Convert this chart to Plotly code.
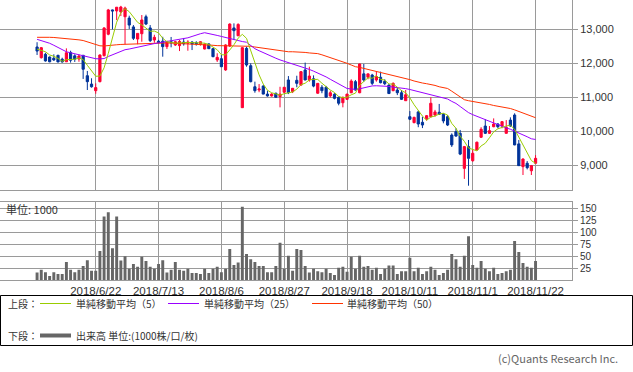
import pandas as pd
import plotly.graph_objects as go

# ---------------- data ----------------
HOLIDAYS = ["2018-07-16", "2018-09-17", "2018-09-24", "2018-10-08"]
_days = [d for d in pd.bdate_range("2018-06-04", "2018-11-22") if d.strftime("%Y-%m-%d") not in HOLIDAYS]
DATES = [f"{d.year}/{d.month}/{d.day}" for d in _days]

TICK_LABELS = ["2018/6/22", "2018/7/13", "2018/8/6", "2018/8/27",
               "2018/9/18", "2018/10/11", "2018/11/1", "2018/11/22"]

OPEN = [12480, 12165, 12265, 12185, 12150, 12235, 12120, 12045, 12320, 12220,
        12125, 12235, 11635, 11390, 11195, 11460, 12225, 12855, 13570, 13540,
        13510, 13370, 13330, 13070, 12715, 12870, 13370, 13040, 12685, 12650,
        12650, 12490, 12635, 12540, 12520, 12625, 12590, 12625, 12605, 12560,
        12420, 12570, 12430, 12100, 12135, 11805, 12510, 13040, 12810, 10695,
        12440, 11930, 11310, 11215, 11330, 11095, 11040, 11120, 11020, 11150,
        11510, 11165, 11500, 11360, 11805, 11510, 11545, 11120, 11295, 11295,
        11040, 11090, 11000, 10840, 10940, 11135, 11460, 11135, 11690, 11590,
        11655, 11510, 11590, 11470, 11360, 11195, 11215, 11135, 10900, 10430,
        10255, 10570, 10265, 10370, 10430, 10480, 10560, 10500, 10430, 9890,
        9990, 9940, 8910, 9550, 9135, 9450, 9825, 10155, 9940, 10135,
        10215, 10155, 9940, 10330, 10480, 9630, 8960, 9060, 8840, 9060]

HIGH = [12620, 12480, 12310, 12200, 12265, 12250, 12165, 12440, 12370, 12265,
        12260, 12245, 11775, 11560, 11410, 12260, 13060, 13600, 13580, 13655,
        13690, 13665, 13400, 13125, 12880, 13420, 13430, 13125, 12840, 12690,
        12780, 12665, 12775, 12660, 12685, 12745, 12680, 12650, 12650, 12650,
        12590, 12590, 12450, 12295, 12245, 12560, 13175, 13175, 13175, 12470,
        12490, 12000, 11460, 11390, 11360, 11195, 11125, 11135, 11310, 11300,
        11625, 11275, 11635, 11770, 12020, 11900, 11645, 11420, 11360, 11335,
        11195, 11120, 11020, 11020, 11100, 11530, 11510, 11990, 11980, 11690,
        11690, 11755, 11755, 11530, 11380, 11440, 11295, 11215, 11215, 10595,
        10430, 10605, 10430, 10480, 11000, 10630, 10805, 10530, 10480, 9940,
        10090, 10040, 9570, 9745, 9470, 9695, 10120, 10355, 10155, 10380,
        10240, 10285, 10330, 10410, 10530, 9745, 9205, 9125, 9010, 9300]

LOW = [12245, 12140, 12050, 12030, 12070, 12030, 12020, 12040, 12020, 12040,
       12045, 11540, 11215, 11285, 11105, 11440, 12200, 12825, 13000, 13270,
       13390, 12560, 13010, 12685, 12560, 12635, 13125, 12625, 12605, 12580,
       12195, 12420, 12470, 12510, 12360, 12520, 12370, 12390, 12520, 12520,
       12410, 12420, 12180, 12040, 11890, 11780, 12480, 12685, 12800, 10690,
       11900, 11440, 11135, 11150, 11090, 11020, 11020, 10995, 10705, 11120,
       11095, 11125, 11295, 11340, 11500, 11460, 11295, 11105, 11120, 10995,
       10990, 10940, 10765, 10705, 10920, 11120, 11195, 11120, 11460, 11530,
       11360, 11460, 11410, 11360, 11100, 11180, 11065, 10920, 10900, 10330,
       10235, 10120, 10095, 10315, 10410, 10430, 10480, 10235, 10155, 9540,
       9840, 9300, 8600, 8400, 9105, 9440, 9805, 9920, 9920, 10120,
       10090, 10090, 9940, 10135, 9590, 8985, 8715, 8880, 8715, 9040]

CLOSE = [12360, 12460, 12070, 12045, 12100, 12040, 12040, 12310, 12090, 12120,
         12215, 11825, 11460, 11310, 11285, 12245, 13040, 13570, 13540, 13650,
         13655, 13625, 13125, 12735, 12880, 13275, 13155, 12665, 12765, 12610,
         12490, 12625, 12605, 12635, 12645, 12575, 12620, 12570, 12575, 12635,
         12560, 12430, 12195, 12175, 11900, 12540, 13155, 12960, 13145, 12460,
         11950, 11460, 11195, 11245, 11095, 11040, 11095, 11000, 11095, 11295,
         11135, 11265, 11410, 11755, 11510, 11625, 11330, 11410, 11195, 11000,
         11135, 10970, 10825, 11000, 11095, 11480, 11215, 11980, 11510, 11690,
         11410, 11605, 11430, 11400, 11110, 11410, 11135, 10940, 11075, 10355,
         10410, 10215, 10185, 10460, 10825, 10570, 10500, 10305, 10185, 9600,
         9860, 9330, 9550, 9205, 9355, 9680, 10060, 9940, 10020, 10215,
         10135, 10285, 10120, 10155, 9600, 8990, 9185, 8930, 8990, 9205]

# closes of the four sessions before the window (for the 5-day average)
PRE_CLOSES = [12610, 12320, 12520, 12290]

MA25 = [12705, 12670, 12630, 12590, 12530, 12470, 12400, 12340, 12310, 12280,
        12245, 12215, 12190, 12160, 12135, 12130, 12140, 12200, 12250, 12300,
        12370, 12400, 12420, 12450, 12480, 12500, 12530, 12560, 12580, 12600,
        12620, 12640, 12660, 12680, 12700, 12720, 12750, 12790, 12840, 12870,
        12900, 12880, 12850, 12820, 12790, 12760, 12710, 12680, 12660, 12640,
        12620, 12520, 12430, 12370, 12310, 12250, 12200, 12150, 12100, 12060,
        12020, 11990, 11960, 11920, 11870, 11820, 11770, 11720, 11660, 11600,
        11530, 11460, 11390, 11310, 11260, 11245, 11235, 11250, 11280, 11310,
        11335, 11340, 11340, 11335, 11320, 11300, 11290, 11275, 11255, 11230,
        11200, 11170, 11140, 11110, 11080, 11050, 11025, 11000, 10950, 10880,
        10820, 10730, 10640, 10550, 10490, 10440, 10390, 10350, 10300, 10240,
        10185, 10150, 10100, 10060, 10010, 9960, 9900, 9840, 9780, 9760]

MA50 = [12765, 12770, 12770, 12765, 12760, 12750, 12740, 12735, 12720, 12705,
        12690, 12670, 12630, 12590, 12550, 12515, 12510, 12515, 12530, 12545,
        12555, 12560, 12565, 12575, 12580, 12585, 12590, 12595, 12600, 12605,
        12600, 12600, 12595, 12590, 12590, 12580, 12575, 12570, 12565, 12560,
        12550, 12540, 12530, 12520, 12520, 12520, 12520, 12520, 12520, 12520,
        12515, 12500, 12480, 12460, 12445, 12430, 12410, 12390, 12365, 12345,
        12340, 12340, 12340, 12335, 12320, 12305, 12295, 12285, 12250, 12210,
        12170, 12140, 12090, 12040, 12000, 11950, 11900, 11880, 11850, 11820,
        11790, 11760, 11740, 11710, 11680, 11655, 11630, 11600, 11560, 11520,
        11480, 11440, 11420, 11400, 11380, 11350, 11310, 11295, 11260, 11180,
        11090, 11000, 10930, 10900, 10880, 10860, 10840, 10825, 10790, 10760,
        10740, 10710, 10690, 10670, 10630, 10580, 10530, 10490, 10440, 10400]

VOLUME = [16, 22, 17, 9, 17, 13, 13, 38, 22, 17,
          22, 30, 42, 20, 20, 61, 133, 142, 67, 133,
          41, 50, 24, 34, 28, 49, 40, 28, 24, 34,
          42, 16, 22, 38, 22, 20, 24, 15, 15, 13,
          24, 15, 24, 28, 17, 24, 65, 32, 37, 153,
          55, 44, 38, 30, 30, 17, 17, 30, 78, 24,
          51, 20, 65, 63, 30, 16, 24, 19, 17, 24,
          15, 11, 26, 28, 18, 49, 24, 51, 28, 30,
          22, 26, 13, 24, 31, 31, 13, 19, 19, 47,
          19, 26, 13, 19, 28, 22, 11, 15, 22, 55,
          44, 28, 51, 92, 32, 26, 40, 24, 19, 26,
          13, 15, 19, 22, 82, 59, 36, 28, 26, 40]

PRICE_TICKS = [9000, 10000, 11000, 12000, 13000]
PRICE_TICKTEXT = ["9,000", "10,000", "11,000", "12,000", "13,000"]
VOL_TICKS = [25, 50, 75, 100, 125, 150]

# ---------------- figure ----------------
W, H = 633, 372
FONT = "Noto Sans CJK JP"
NUMFONT = "Liberation Sans"
GRID = "#9a9a9a"
TXT = "#333333"

ma5 = pd.Series(PRE_CLOSES + CLOSE).rolling(5).mean().tolist()[len(PRE_CLOSES):]


def fx(px):
    return px / W


def fy(py):
    return 1 - py / H


XR = [-8.85, 127.7]
XDOM = [0, 572 / W]

fig = go.Figure()
fig.add_trace(go.Candlestick(
    x=DATES, open=OPEN, high=HIGH, low=LOW, close=CLOSE,
    increasing=dict(line=dict(color="#ff0033", width=1), fillcolor="#ff0033"),
    decreasing=dict(line=dict(color="#003399", width=1), fillcolor="#003399"),
    whiskerwidth=0, xaxis="x", yaxis="y", showlegend=False))
fig.add_trace(go.Scatter(x=DATES, y=MA50, mode="lines", line=dict(color="#ff3300", width=1),
                         xaxis="x", yaxis="y", showlegend=False))
fig.add_trace(go.Scatter(x=DATES, y=MA25, mode="lines", line=dict(color="#9900ff", width=1),
                         xaxis="x", yaxis="y", showlegend=False))
fig.add_trace(go.Scatter(x=DATES, y=ma5, mode="lines", line=dict(color="#99cc00", width=1),
                         xaxis="x", yaxis="y", showlegend=False))
fig.add_trace(go.Bar(x=DATES, y=VOLUME, marker=dict(color="#666666", line=dict(width=0)),
                     width=0.7, xaxis="x2", yaxis="y2", showlegend=False))

axis_common = dict(showgrid=True, gridcolor=GRID, gridwidth=1, showline=True, mirror=True,
                   linecolor=GRID, linewidth=1, zeroline=False)

fig.update_layout(
    width=W, height=H, margin=dict(l=0, r=0, t=0, b=0),
    paper_bgcolor="white", plot_bgcolor="white",
    font=dict(family=FONT, size=11, color=TXT),
    boxgap=0.25,
    xaxis=dict(domain=XDOM, range=XR, type="category", tickvals=TICK_LABELS,
               showticklabels=False, ticks="", anchor="y",
               rangeslider=dict(visible=False), **axis_common),
    yaxis=dict(domain=[fy(190.3), 1], range=[8265, 13862], side="right", anchor="x",
               tickvals=PRICE_TICKS, ticktext=PRICE_TICKTEXT, ticks="outside", ticklen=5,
               tickcolor=GRID, tickfont=dict(family=NUMFONT, size=11, color=TXT), **axis_common),
    xaxis2=dict(domain=XDOM, range=XR, type="category", tickvals=TICK_LABELS,
                ticktext=TICK_LABELS, ticks="", anchor="y2",
                tickfont=dict(family=NUMFONT, size=11.5, color=TXT), **axis_common),
    yaxis2=dict(domain=[fy(280.3), fy(201.7)], range=[0, 163.75], side="right", anchor="x2",
                tickvals=VOL_TICKS, ticks="outside", ticklen=5, tickcolor=GRID,
                tickfont=dict(family=NUMFONT, size=10, color=TXT), **axis_common),
    bargap=0.3,
    hovermode=False,
)

shapes = [
    dict(type="rect", xref="paper", yref="paper", x0=fx(0.5), x1=fx(632.5),
         y0=fy(295.5), y1=fy(345.5), line=dict(color="black", width=1)),
    dict(type="line", xref="paper", yref="paper", x0=fx(40), x1=fx(71), y0=fy(303.5), y1=fy(303.5),
         line=dict(color="#99cc00", width=1)),
    dict(type="line", xref="paper", yref="paper", x0=fx(168), x1=fx(199), y0=fy(303.5), y1=fy(303.5),
         line=dict(color="#9900ff", width=1)),
    dict(type="line", xref="paper", yref="paper", x0=fx(312), x1=fx(343), y0=fy(303.5), y1=fy(303.5),
         line=dict(color="#ff3300", width=1)),
    dict(type="line", xref="paper", yref="paper", x0=fx(40), x1=fx(71), y0=fy(335.5), y1=fy(335.5),
         line=dict(color="#666666", width=4)),
]
fig.update_layout(shapes=shapes)


def note(text, px, py, size=10, color=TXT):
    fig.add_annotation(text=text, x=fx(px), y=fy(py), xref="paper", yref="paper",
                       xanchor="left", yanchor="middle", showarrow=False,
                       font=dict(family=FONT, size=size, color=color))


note("上段：", 6, 303.5)
note("単純移動平均（5）", 74, 303.5)
note("単純移動平均（25）", 202, 303.5)
note("単純移動平均（50）", 345, 303.5)
note("下段：", 6, 335.5)
note("出来高 単位:(1000株/口/枚)", 74, 335.5)
note("単位: 1000", 4, 209, size=11)
note("(c)Quants Research Inc.", 496, 357.5, size=11, color="#666666")

fig.write_html("out.html", config={"displayModeBar": False},
               post_script="document.body.style.margin='0';document.body.style.padding='0';")
